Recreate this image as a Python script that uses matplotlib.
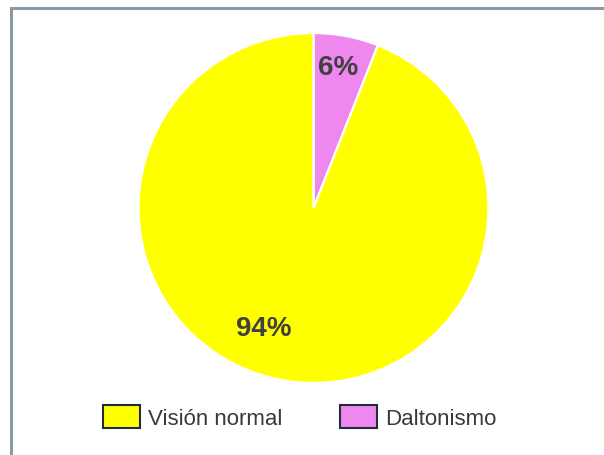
import numpy as np
import matplotlib
matplotlib.use("Agg")
import matplotlib.pyplot as plt
from matplotlib.patches import Patch, Rectangle

plt.rcParams['font.family'] = ['Liberation Sans', 'DejaVu Sans']

categories = ["Daltonismo", "Visión normal"]
values = [6, 94]
colors = ["#ee88ee", "#ffff00"]
label_texts = ["6%", "94%"]
legend_order = ["Visión normal", "Daltonismo"]

W, H = 604, 456
fig = plt.figure(figsize=(W / 100, H / 100), dpi=100)
fig.patch.set_facecolor("white")

# outer frame (runs off the right and bottom edges)
fig.patches.append(Rectangle((11 / W, -0.1), 1.2, (H - 9) / H + 0.1,
                             transform=fig.transFigure, fill=False,
                             edgecolor="#8c99a3", linewidth=2.2, zorder=0))

cx, cy, r = 313.5, 209, 175
ax = fig.add_axes([(cx - r) / W, (H - cy - r) / H, 2 * r / W, 2 * r / H])
wedges, _ = ax.pie(values, colors=colors, startangle=90, counterclock=False,
                   radius=1, wedgeprops=dict(edgecolor="white", linewidth=1.6))
ax.set_xlim(-1, 1)
ax.set_ylim(-1, 1)
ax.set_aspect("equal")
ax.axis("off")

# percentage labels placed inside each slice
label_pos = [(10.0, 0.82), (-157.4, 0.74)]  # (degrees clockwise from top, radius)
for txt, (ang, rr) in zip(label_texts, label_pos):
    a = np.deg2rad(90 - ang)
    ax.text(rr * np.cos(a), rr * np.sin(a), txt, ha="center", va="center",
            fontsize=20, fontweight="bold", color="#404040")

handles = [Patch(facecolor=colors[categories.index(n)], edgecolor="#1f2d3d",
                 linewidth=1.5, label=n) for n in legend_order]
fig.legend(handles=handles, loc="center", bbox_to_anchor=(300 / W, 38 / H),
           ncol=2, frameon=False, fontsize=16, handlelength=1.67,
           handleheight=1.22, handletextpad=0.36, columnspacing=2.6,
           labelcolor="#3a3a3a")

fig.savefig("out.png", dpi=100)
